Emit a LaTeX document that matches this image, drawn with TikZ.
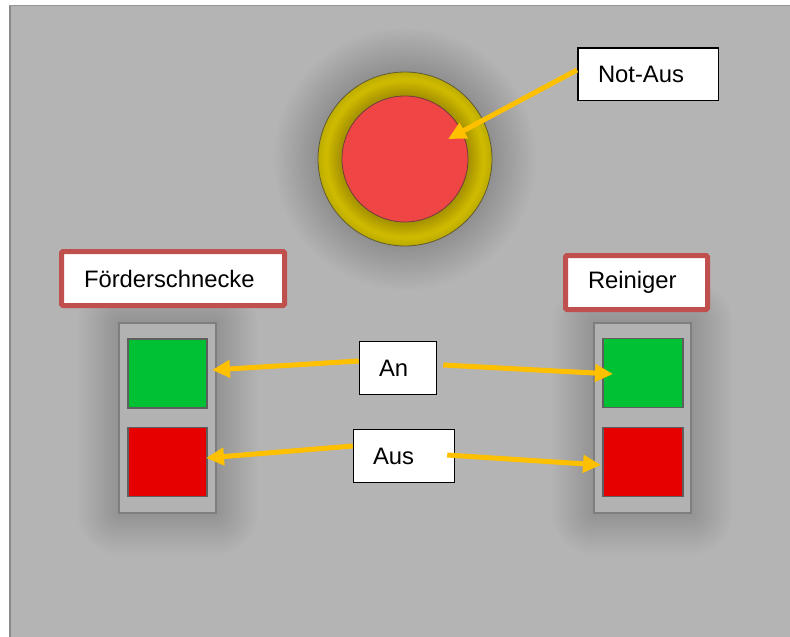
\documentclass[tikz,border=0pt]{standalone}
\usepackage{fontspec}
\setmainfont{Liberation Sans}
\usetikzlibrary{arrows.meta}
\definecolor{panel}{HTML}{B4B4B4}
\definecolor{panelleft}{HTML}{8A8A8A}
\definecolor{paneltop}{HTML}{969696}
\definecolor{framefill}{HTML}{B2B2B2}
\definecolor{framedraw}{HTML}{7E7E7E}
\definecolor{btngreen}{HTML}{00C033}
\definecolor{btnred}{HTML}{E60000}
\definecolor{btnedge}{HTML}{5E5E5E}
\definecolor{ringyellow}{HTML}{CDB900}
\definecolor{ringedge}{HTML}{645F3C}
\definecolor{stopred}{HTML}{F04545}
\definecolor{stopedge}{HTML}{6E3C3C}
\definecolor{labred}{HTML}{C0504D}
\definecolor{arrorange}{HTML}{FFC000}
\begin{document}
\begin{tikzpicture}[x=1pt,y=-1pt,
  lbl/.style={draw=black, line width=1.5pt, fill=white, align=left,
    font=\fontsize{23.8}{28}\selectfont, inner ysep=0pt},
  titlebox/.style={draw=labred, line width=5pt, fill=white, align=left,
    rounded corners=1.5pt, font=\fontsize{23.8}{28}\selectfont, inner ysep=0pt,
    minimum height=54pt, inner xsep=22.5pt},
  frame/.style={draw=framedraw, line width=2pt, fill=framefill,
    minimum width=97pt, minimum height=190pt, inner sep=0pt},
  btn/.style={draw=btnedge, line width=1.5pt, minimum width=79pt,
    minimum height=69pt, inner sep=0pt},
  arr/.style={draw=arrorange, line width=5pt,
    -{Triangle[length=18pt,width=17pt]}}]
\useasboundingbox (0,0) rectangle (790,637);
\fill[white] (0,0) rectangle (790,637);
\fill[panel] (9,5) rectangle (790,637);
\draw[panelleft, line width=2pt] (9.5,637) -- (9.5,5);
\draw[paneltop, line width=1pt] (9,5.5) -- (790,5.5);
% soft shadows
\foreach \i in {1,...,18} {
  \pgfmathsetmacro\r{86+2.5*\i}
  \fill[black, opacity=0.009] (405,159) circle[radius=\r pt];
}
\foreach \i in {1,...,16} {
  \pgfmathsetmacro\d{2.6*\i}
  \fill[black, opacity=0.008, rounded corners=\d pt]
    (119-\d,323-\d) rectangle (216+\d,513+\d);
  \fill[black, opacity=0.008, rounded corners=\d pt]
    (594-\d,323-\d) rectangle (691+\d,513+\d);
}
% emergency stop
\fill[ringyellow, draw=ringedge, line width=0.8pt]
  (405,159) circle[radius=87pt];
\foreach \i in {1,...,10} {
  \pgfmathsetmacro\r{63+1.4*\i}
  \fill[black, opacity=0.018] (405,159) circle[radius=\r pt];
}
\foreach \i in {1,...,4} {
  \pgfmathsetmacro\r{87-1.5*\i}
  \fill[black, opacity=0.015, even odd rule] (405,159) circle[radius=87pt] circle[radius=\r pt];
}
\node[circle, fill=stopred, draw=stopedge, line width=0.8pt,
  minimum size=126pt, inner sep=0pt] (stop) at (405,159) {};
% labels
\node[lbl, minimum width=140.5pt, minimum height=52.5pt, inner xsep=20.25pt,
  text width=100pt] (nabox) at (648,74) {Not-Aus};
\node[titlebox, minimum width=223pt, text width=178pt] (fs) at (173,278.5) {Förderschnecke};
\node[titlebox, minimum width=142pt, text width=97pt] (rein) at (636.5,282.5) {Reiniger};
% button frames
\node[frame] (lf) at (167.5,418) {};
\node[frame] (rf) at (642.5,418) {};
\node[btn, fill=btngreen] (lgreen) at (167.5,373.5) {};
\node[btn, fill=btnred] (lred) at (167.5,462) {};
\node[btn, fill=btngreen, minimum width=80pt] (rgreen) at (643,373) {};
\node[btn, fill=btnred, minimum width=80pt] (rred) at (643,462) {};
% An / Aus
\node[lbl, minimum width=77pt, minimum height=53pt, inner xsep=19.5pt,
  text width=38pt] (an) at (398,368) {An};
\node[lbl, minimum width=101pt, minimum height=53pt, inner xsep=19.5pt,
  text width=62pt] (aus) at (404,456) {Aus};
% arrow tips
\coordinate (tNA) at (448,139);
\coordinate (tAnL) at (212,370);
\coordinate (tAnR) at (613,374);
\coordinate (tAusL) at (206,458);
\coordinate (tAusR) at (601,465);
\draw[arr] ([yshift=4pt]nabox.west) -- (tNA);
\draw[arr] ([yshift=7pt]an.west) -- (tAnL);
\draw[arr] ([xshift=6pt,yshift=3pt]an.east) -- (tAnR);
\draw[arr] ([yshift=10pt]aus.west) -- (tAusL);
\draw[arr] ([xshift=-8pt,yshift=1pt]aus.east) -- (tAusR);
\end{tikzpicture}
\end{document}
